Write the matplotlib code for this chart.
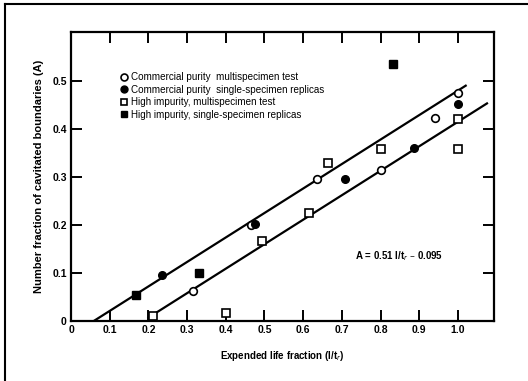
import numpy as np
import matplotlib
matplotlib.use('Agg')
import matplotlib.pyplot as plt
from matplotlib.lines import Line2D

plt.rcParams['font.family'] = ['Liberation Sans', 'DejaVu Sans']

# commercial purity, multispecimen test (open circles)
cp_multi_x = [0.315, 0.465, 0.635, 0.80, 0.94, 1.0]
cp_multi_y = [0.063, 0.200, 0.295, 0.315, 0.422, 0.474]
# commercial purity, single-specimen replicas (filled circles)
cp_single_x = [0.235, 0.475, 0.708, 0.887, 1.0]
cp_single_y = [0.095, 0.202, 0.295, 0.360, 0.453]
# high impurity, multispecimen test (open squares)
hi_multi_x = [0.212, 0.40, 0.493, 0.615, 0.664, 0.80, 1.0, 1.0]
hi_multi_y = [0.010, 0.017, 0.166, 0.226, 0.330, 0.359, 0.421, 0.358]
# high impurity, single-specimen replicas (filled squares)
hi_single_x = [0.168, 0.332, 0.832]
hi_single_y = [0.054, 0.100, 0.535]

# fitted lines: slope, intercept, x range
upper_fit = (0.51, -0.030, 0.058, 1.02)
lower_fit = (0.51, -0.095, 0.20, 1.075)

xticks = [0, 0.1, 0.2, 0.3, 0.4, 0.5, 0.6, 0.7, 0.8, 0.9, 1.0]
xlabels = ['0', '0.1', '0.2', '0.3', '0.4', '0.5', '0.6', '0.7', '0.8', '0.9', '1.0']
yticks = [0, 0.1, 0.2, 0.3, 0.4, 0.5]
ylabels = ['0', '0.1', '0.2', '0.3', '0.4', '0.5']

fig = plt.figure(figsize=(5.28, 3.81), dpi=100)
ax = fig.add_axes([0.1345, 0.1575, 0.801, 0.7585])

for slope, icpt, x0, x1 in (upper_fit, lower_fit):
    xs = np.array([x0, x1])
    ax.plot(xs, slope * xs + icpt, color='black', lw=1.6, zorder=2)

ms = 5.5
ax.plot(cp_multi_x, cp_multi_y, 'o', mfc='white', mec='black', mew=1.2, ms=ms, zorder=3)
ax.plot(cp_single_x, cp_single_y, 'o', mfc='black', mec='black', ms=ms, zorder=3)
ax.plot(hi_multi_x, hi_multi_y, 's', mfc='white', mec='black', mew=1.2, ms=ms, zorder=3)
ax.plot(hi_single_x, hi_single_y, 's', mfc='black', mec='black', ms=ms, zorder=3)

ax.set_xlim(0, 1.093)
ax.set_ylim(0, 0.602)
ax.set_xticks(xticks)
ax.set_xticklabels(xlabels)
ax.set_yticks(yticks)
ax.set_yticklabels(ylabels)
ax.tick_params(direction='in', length=8, width=1.4, labelsize=7.5,
               top=True, right=True, pad=3)
for lab in ax.get_xticklabels() + ax.get_yticklabels():
    lab.set_fontweight('bold')
for sp in ax.spines.values():
    sp.set_linewidth(1.6)

ax.set_xlabel('Expended life fraction (l/t$_r$)', fontsize=7, fontweight='bold', labelpad=10)
ax.set_ylabel('Number fraction of cavitated boundaries (A)', fontsize=8,
              fontweight='bold', labelpad=6)

ax.text(0.847, 0.135, 'A = 0.51 l/t$_r$ \u2013 0.095', fontsize=7, fontweight='bold',
        ha='center', va='center')

handles = [
    Line2D([], [], ls='none', marker='o', mfc='white', mec='black', mew=1.2, ms=5),
    Line2D([], [], ls='none', marker='o', mfc='black', mec='black', ms=5),
    Line2D([], [], ls='none', marker='s', mfc='white', mec='black', mew=1.2, ms=5),
    Line2D([], [], ls='none', marker='s', mfc='black', mec='black', ms=5),
]
labels = ['Commercial purity  multispecimen test',
          'Commercial purity  single-specimen replicas',
          'High impurity, multispecimen test',
          'High impurity, single-specimen replicas']
ax.legend(handles, labels, loc='upper left', bbox_to_anchor=(0.106, 0.878),
          frameon=False, fontsize=7.1, handlelength=0.6, handletextpad=0.45,
          labelspacing=0.25, borderpad=0)

# page border from the scan
fig.add_artist(Line2D([0.009, 0.009], [0, 0.99], color='black', lw=1.5,
                      transform=fig.transFigure))
fig.add_artist(Line2D([0.009, 1.0], [0.99, 0.99], color='black', lw=1.5,
                      transform=fig.transFigure))

fig.savefig('out.png', dpi=100)
